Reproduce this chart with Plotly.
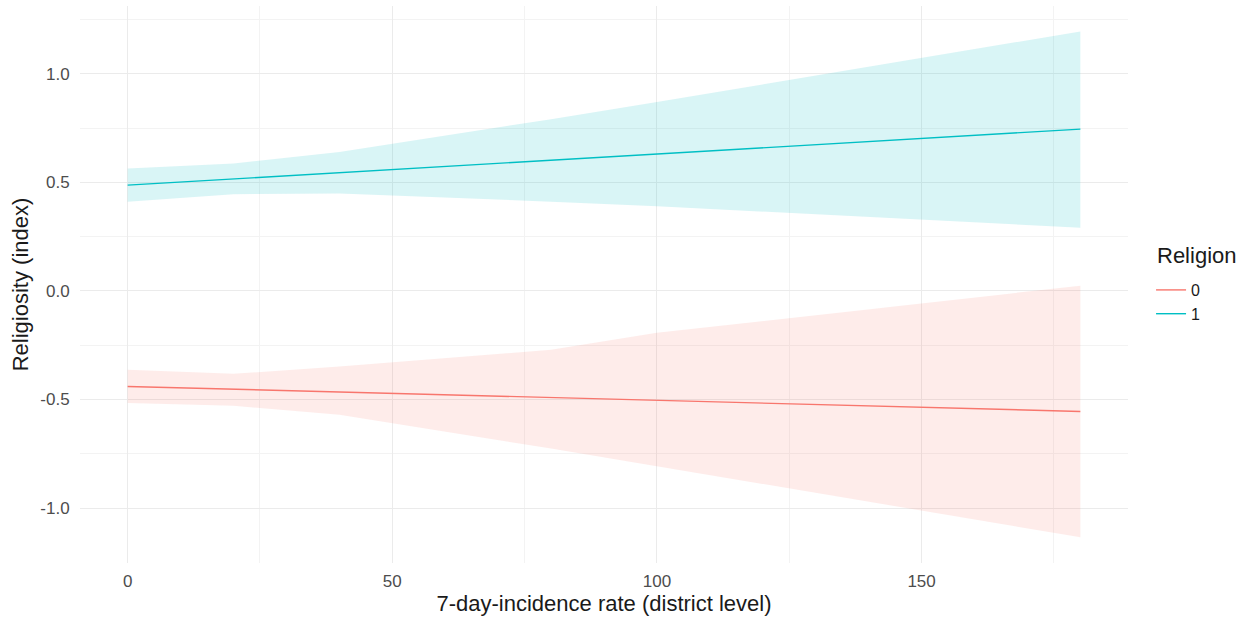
import plotly.graph_objects as go

# Data
incidence = [0, 20, 40, 80, 100, 180]

fit0 = [-0.440, -0.453, -0.466, -0.491, -0.504, -0.555]
lower0 = [-0.516, -0.529, -0.570, -0.726, -0.810, -1.134]
upper0 = [-0.363, -0.382, -0.348, -0.271, -0.193, 0.024]

fit1 = [0.487, 0.516, 0.544, 0.602, 0.630, 0.745]
lower1 = [0.411, 0.445, 0.449, 0.411, 0.390, 0.291]
upper1 = [0.564, 0.587, 0.640, 0.791, 0.870, 1.195]

groups = ["0", "1"]
legend_title = "Religion"
line_colors = ["#F8766D", "#00BFC4"]
fill_colors = ["rgba(248,118,109,0.14)", "rgba(0,191,196,0.15)"]

x_ticks = [0, 50, 100, 150]
y_ticks = [-1.0, -0.5, 0.0, 0.5, 1.0]
y_ticktext = ["-1.0", "-0.5", "0.0", "0.5", "1.0"]

fig = go.Figure()

series = [(fit0, lower0, upper0), (fit1, lower1, upper1)]
for (fit, lo, up), fc in zip(series, fill_colors):
    fig.add_trace(go.Scatter(
        x=incidence + incidence[::-1],
        y=up + lo[::-1],
        fill="toself", fillcolor=fc, line=dict(width=0),
        mode="lines", showlegend=False, hoverinfo="skip"))

for (fit, lo, up), g, lc in zip(series, groups, line_colors):
    fig.add_trace(go.Scatter(
        x=incidence, y=fit, mode="lines", name=g,
        line=dict(color=lc, width=1.4)))

grid = "#EBEBEB"
fig.update_layout(
    width=1251, height=617,
    paper_bgcolor="white", plot_bgcolor="white",
    margin=dict(l=80, r=123, t=6, b=54),
    font=dict(family="Liberation Sans, Arial, sans-serif", color="#1A1A1A"),
    legend=dict(
        font=dict(size=16, color="#1A1A1A"),
        x=1.022, y=(291 + 12 - 6 - 7) / 557.0, xanchor="left", yanchor="top",
        tracegroupgap=0, itemwidth=30),
    xaxis=dict(
        range=[-9, 189], tickvals=x_ticks, showline=False, zeroline=False,
        showgrid=True, gridcolor=grid, gridwidth=1.2,
        minor=dict(showgrid=True, gridcolor="#F3F3F3", gridwidth=1, tick0=25, dtick=50),
        ticks="outside", ticklen=3, tickcolor="rgba(0,0,0,0)",
        tickfont=dict(size=17, color="#4D4D4D"),
        title=dict(text="7-day-incidence rate (district level)",
                   font=dict(size=22, color="#1A1A1A"), standoff=4)),
    yaxis=dict(
        range=[-1.253, 1.312], tickvals=y_ticks, ticktext=y_ticktext,
        showline=False, zeroline=False,
        showgrid=True, gridcolor=grid, gridwidth=1.2,
        minor=dict(showgrid=True, gridcolor="#F3F3F3", gridwidth=1, tick0=0.25, dtick=0.5),
        ticks="outside", ticklen=6, tickcolor="rgba(0,0,0,0)",
        tickfont=dict(size=17, color="#4D4D4D"),
        title=dict(text="Religiosity (index)",
                   font=dict(size=22, color="#1A1A1A"), standoff=5)),
)
fig.add_annotation(
    text=legend_title, xref="paper", yref="paper",
    x=(1155 - 80) / 1048.0, y=1 - (255 - 6) / 557.0,
    xanchor="left", yanchor="middle", showarrow=False,
    font=dict(size=22, color="#1A1A1A"))

fig.write_html("out.html", config={"displayModeBar": False},
               post_script="document.body.style.margin='0';")
